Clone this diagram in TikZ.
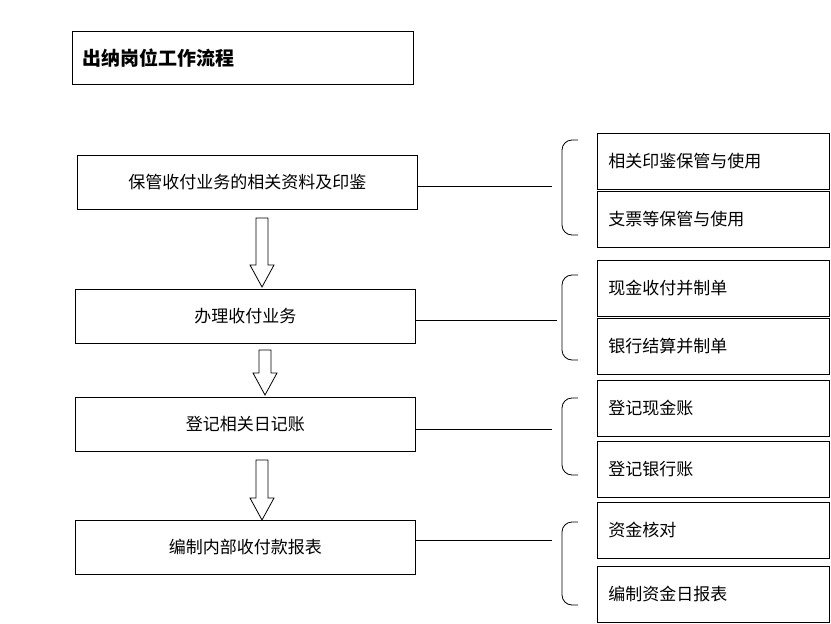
\documentclass[tikz,border=0pt]{standalone}
\usepackage{fontspec}
\setmainfont{Noto Sans CJK SC}
\usetikzlibrary{positioning}

\tikzset{
  leftbox/.style = {draw, thick, minimum width=340pt, minimum height=54pt, font=\fontsize{17}{20}\selectfont},
  subbox/.style = {draw, thick, minimum width=232pt, minimum height=56pt, text width=210pt, align=left, font=\fontsize{17}{20}\selectfont},
  bracket/.style = {thick, rounded corners=10pt},
}

% hollow down arrow: x, y top, y bottom
\newcommand{\hollowarrow}[3]{%
  \draw[thick] (#1-6,#2) -- (#1+6,#2) -- (#1+6,#3-22) -- (#1+12,#3-22) -- (#1,#3)
    -- (#1-12,#3-22) -- (#1-6,#3-22) -- cycle;}

\begin{document}
\begin{tikzpicture}[x=1pt, y=-1pt]
  \useasboundingbox (0,0) rectangle (831,624);

  % Title
  \node[draw, thick, minimum width=341pt, minimum height=53pt, anchor=north west,
        text width=320pt, align=left, font=\fontsize{19}{22}\selectfont\bfseries] (title) at (72,31) {出纳岗位工作流程};

  % Main steps
  \node[leftbox, anchor=north west] (keep) at (77,155) {保管收付业务的相关资料及印鉴};
  \node[leftbox, anchor=north west] (handle) at (75,289) {办理收付业务};
  \node[leftbox, anchor=north west] (record) at (75,397) {登记相关日记账};
  \node[leftbox, anchor=north west] (report) at (75,520) {编制内部收付款报表};

  % Hollow arrows
  \hollowarrow{262}{218}{287}
  \hollowarrow{265}{350}{395}
  \hollowarrow{262}{460}{520}

  % Sub boxes
  \node[subbox, anchor=north west] (seal) at (597,133) {相关印鉴保管与使用};
  \node[subbox, anchor=north west] (cheque) at (597,191) {支票等保管与使用};
  \node[subbox, anchor=north west] (cash) at (597,260) {现金收付并制单};
  \node[subbox, anchor=north west] (bank) at (597,318) {银行结算并制单};
  \node[subbox, anchor=north west] (cashbook) at (597,380) {登记现金账};
  \node[subbox, anchor=north west] (bankbook) at (597,441) {登记银行账};
  \node[subbox, anchor=north west] (check) at (597,502) {资金核对};
  \node[subbox, anchor=north west] (daily) at (597,566) {编制资金日报表};

  % Lines to brackets
  \coordinate (b1) at (552,186);
  \coordinate (b2) at (557,320);
  \coordinate (b3) at (552,429);
  \coordinate (b4) at (552,540);
  \draw[thick] (keep.east |- b1) -- (b1);
  \draw[thick] (handle.east |- b2) -- (b2);
  \draw[thick] (record.east |- b3) -- (b3);
  \draw[thick] (report.east |- b4) -- (b4);

  % Brackets
  \draw[bracket] (578,140) -- (562,140) -- (562,235) -- (578,235);
  \draw[bracket] (578,275) -- (562,275) -- (562,360) -- (578,360);
  \draw[bracket] (578,398) -- (562,398) -- (562,475) -- (578,475);
  \draw[bracket] (578,522) -- (562,522) -- (562,605) -- (578,605);
\end{tikzpicture}
\end{document}
